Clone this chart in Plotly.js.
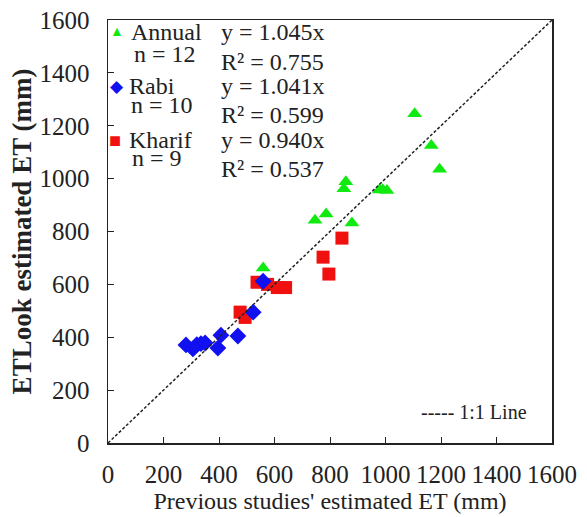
<!DOCTYPE html>
<html>
<head>
<meta charset="utf-8">
<script src="https://cdn.plot.ly/plotly-3.0.1.min.js"></script>
<style>
html,body{margin:0;padding:0;background:#fff;}
#chart{width:587px;height:517px;}
</style>
</head>
<body>
<div id="chart"></div>
<script>
// Data
var annualX = [1105, 1165, 1195, 857, 850, 978, 1005, 990, 746, 786, 879, 559];
var annualY = [1245, 1125, 1035, 988, 962, 957, 955, 958, 843, 866, 832, 662];
var rabiX = [281, 306, 320, 335, 350, 396, 407, 468, 523, 559];
var rabiY = [371, 356, 372, 376, 378, 359, 408, 405, 495, 612];
var kharifX = [843, 775, 796, 537, 575, 610, 640, 476, 494];
var kharifY = [775, 703, 639, 608, 600, 588, 588, 495, 475];
var lineXY = [0, 1600];
var tickVals = [0, 200, 400, 600, 800, 1000, 1200, 1400, 1600];

var serif = 'Liberation Serif, Times New Roman, serif';
var green = '#10ea10', blue = '#1010f0', red = '#f01010';

var traces = [
  {x: kharifX, y: kharifY, type: 'scatter', mode: 'markers', name: 'Kharif',
   marker: {symbol: 'square', size: 13, color: red}},
  {x: rabiX, y: rabiY, type: 'scatter', mode: 'markers', name: 'Rabi',
   marker: {symbol: 'diamond', size: 13, color: blue}},
  {x: annualX, y: annualY, type: 'scatter', mode: 'markers', name: 'Annual',
   marker: {symbol: 'triangle-up', size: 13, color: green}},
  {x: lineXY, y: lineXY, type: 'scatter', mode: 'lines', name: '1:1 Line',
   line: {color: '#222', width: 1.5, dash: '3px,2px'}}
];

function px2x(p){ return (p - 108) / 444; }
function px2y(p){ return (443 - p) / 423; }
function ann(text, xp, yp, size, anchor, color){
  return {text: text, xref: 'paper', yref: 'paper', x: px2x(xp), y: px2y(yp),
          xanchor: anchor || 'left', yanchor: 'middle', showarrow: false, borderpad: 0,
          font: {family: serif, size: size || 24, color: color || '#222'}};
}
var annotations = [
  ann('▲', 117, 31, 14, 'center', green),
  ann('Annual', 130, 32),
  ann('n = 12', 133, 54),
  ann('y = 1.045x', 220, 32),
  ann('R² = 0.755', 220, 62),
  ann('◆', 117, 86, 17, 'center', blue),
  ann('Rabi', 128, 86),
  ann('n = 10', 130, 105),
  ann('y = 1.041x', 220, 86),
  ann('R² = 0.599', 220, 115),
  ann('■', 115, 140, 20, 'center', red),
  ann('Kharif', 128, 140),
  ann('n = 9', 131, 158),
  ann('y = 0.940x', 220, 140),
  ann('R² = 0.537', 220, 169),
  ann('----- 1:1 Line', 420, 412, 20)
];

var axisCommon = {
  range: [0, 1600], tickvals: tickVals, ticktext: tickVals.map(String),
  showgrid: false, zeroline: false, showline: true, linecolor: '#222', linewidth: 1.5,
  mirror: true, ticks: 'inside', ticklen: 6, tickcolor: '#222', tickwidth: 1,
  tickfont: {family: serif, size: 25, color: '#222'}, fixedrange: true
};

var layout = {
  width: 587, height: 517,
  margin: {l: 108, r: 35, t: 20, b: 74},
  paper_bgcolor: '#fff', plot_bgcolor: '#fff',
  showlegend: false,
  xaxis: Object.assign({}, axisCommon, {
    ticklabelstandoff: 8,
    title: {text: "Previous studies' estimated ET (mm)", standoff: 5,
            font: {family: serif, size: 24, color: '#222'}}
  }),
  yaxis: Object.assign({}, axisCommon, {
    ticklabelstandoff: 12,
    title: {text: '<b>ETLook estimated ET (mm)</b>', standoff: 0,
            font: {family: serif, size: 27, color: '#222'}}
  }),
  annotations: annotations
};

Plotly.newPlot('chart', traces, layout, {displayModeBar: false, staticPlot: true});
</script>
</body>
</html>
